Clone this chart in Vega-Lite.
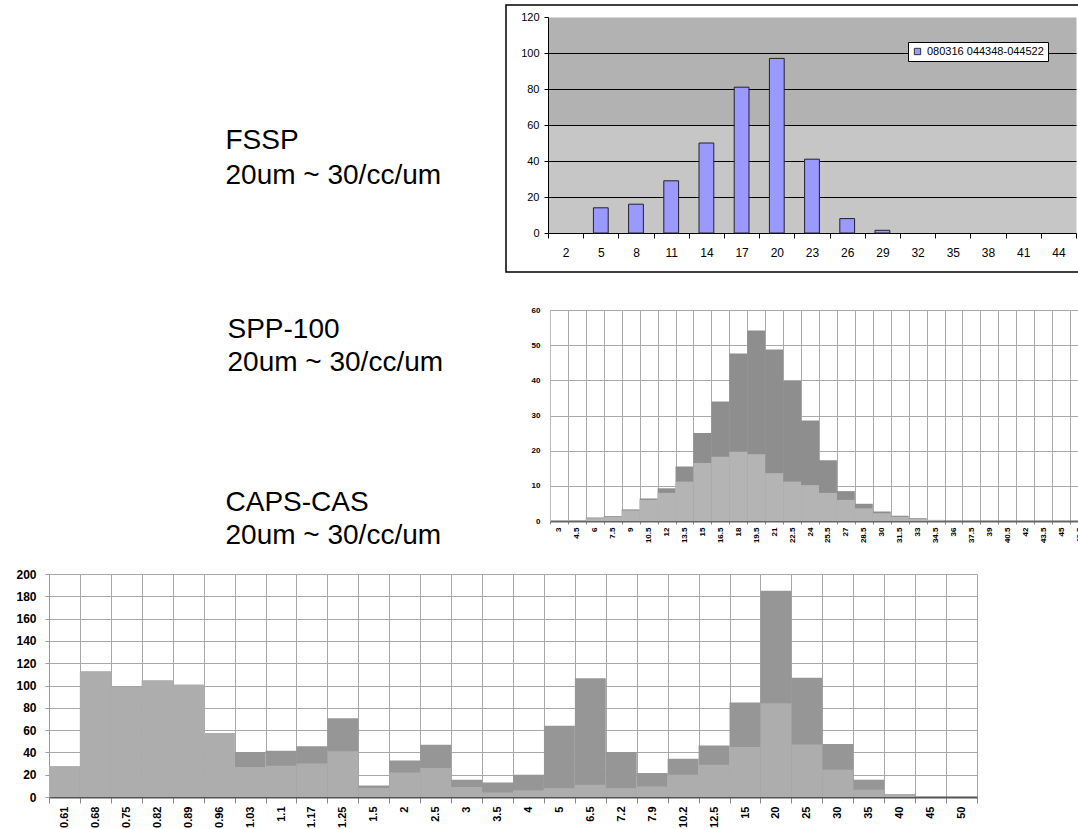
{
  "$schema": "https://vega.github.io/schema/vega-lite/v6.json",
  "width": 1078,
  "height": 829,
  "autosize": "none",
  "padding": 0,
  "background": "white",
  "config": {"view": {"stroke": null}, "font": "Liberation Sans"},
  "datasets": {
    "fssp": [
      {"size": "2", "count": 0}, {"size": "5", "count": 14}, {"size": "8", "count": 16},
      {"size": "11", "count": 29}, {"size": "14", "count": 50}, {"size": "17", "count": 81},
      {"size": "20", "count": 97}, {"size": "23", "count": 41}, {"size": "26", "count": 8},
      {"size": "29", "count": 1.5}, {"size": "32", "count": 0}, {"size": "35", "count": 0},
      {"size": "38", "count": 0}, {"size": "41", "count": 0}, {"size": "44", "count": 0}
    ],
    "spp": [
      {"size": "3", "total": 0, "part": 0}, {"size": "4.5", "total": 0.2, "part": 0.2},
      {"size": "6", "total": 1.0, "part": 0.8}, {"size": "7.5", "total": 1.4, "part": 1.2},
      {"size": "9", "total": 3.3, "part": 3.0}, {"size": "10.5", "total": 6.4, "part": 6.0},
      {"size": "12", "total": 9.3, "part": 8.0}, {"size": "13.5", "total": 15.5, "part": 11.2},
      {"size": "15", "total": 25.0, "part": 16.5}, {"size": "16.5", "total": 34.0, "part": 18.3},
      {"size": "18", "total": 47.6, "part": 19.7}, {"size": "19.5", "total": 54.2, "part": 19.0},
      {"size": "21", "total": 48.8, "part": 13.6}, {"size": "22.5", "total": 39.8, "part": 11.2},
      {"size": "24", "total": 28.6, "part": 10.2}, {"size": "25.5", "total": 17.3, "part": 8.0},
      {"size": "27", "total": 8.5, "part": 6.0}, {"size": "28.5", "total": 4.9, "part": 3.6},
      {"size": "30", "total": 2.7, "part": 2.2}, {"size": "31.5", "total": 1.5, "part": 1.2},
      {"size": "33", "total": 0.8, "part": 0.6}, {"size": "34.5", "total": 0.3, "part": 0.3},
      {"size": "36", "total": 0, "part": 0}, {"size": "37.5", "total": 0, "part": 0},
      {"size": "39", "total": 0, "part": 0}, {"size": "40.5", "total": 0, "part": 0},
      {"size": "42", "total": 0, "part": 0}, {"size": "43.5", "total": 0, "part": 0},
      {"size": "45", "total": 0, "part": 0}, {"size": "46.5", "total": 0, "part": 0}
    ],
    "caps": [
      {"size": "0.61", "total": 27.5, "part": 27.5}, {"size": "0.68", "total": 112.5, "part": 112.5},
      {"size": "0.75", "total": 99, "part": 99}, {"size": "0.82", "total": 104.5, "part": 104.5},
      {"size": "0.89", "total": 100.6, "part": 100.6}, {"size": "0.96", "total": 57.3, "part": 57.3},
      {"size": "1.03", "total": 40.3, "part": 27}, {"size": "1.1", "total": 41.5, "part": 28},
      {"size": "1.17", "total": 45.5, "part": 30}, {"size": "1.25", "total": 70.7, "part": 41},
      {"size": "1.5", "total": 10.4, "part": 8}, {"size": "2", "total": 32.8, "part": 22},
      {"size": "2.5", "total": 46.9, "part": 26}, {"size": "3", "total": 15.5, "part": 9},
      {"size": "3.5", "total": 13.1, "part": 4}, {"size": "4", "total": 20, "part": 6},
      {"size": "5", "total": 63.9, "part": 8}, {"size": "6.5", "total": 106.6, "part": 11},
      {"size": "7.2", "total": 40.3, "part": 8}, {"size": "7.9", "total": 21.5, "part": 9.5},
      {"size": "10.2", "total": 34.3, "part": 20}, {"size": "12.5", "total": 46.3, "part": 29},
      {"size": "15", "total": 84.8, "part": 44.8}, {"size": "20", "total": 185, "part": 84},
      {"size": "25", "total": 107, "part": 47}, {"size": "30", "total": 47.5, "part": 24.5},
      {"size": "35", "total": 15.5, "part": 6.6}, {"size": "40", "total": 2.7, "part": 2.7},
      {"size": "45", "total": 0, "part": 0}, {"size": "50", "total": 0, "part": 0}
    ]
  },
  "layer": [
    {
      "data": {"values": [{"panel": "FSSP"}]},
      "mark": {"type": "rect", "fill": null, "fillOpacity": 0, "stroke": "black", "strokeWidth": 1.5},
      "encoding": {
        "x": {"datum": 0, "type": "quantitative", "scale": {"domain": [0, 1], "range": [506, 1092]}, "axis": null},
        "x2": {"datum": 1},
        "y": {"datum": 0, "type": "quantitative", "scale": {"domain": [0, 1], "range": [272, 5]}, "axis": null},
        "y2": {"datum": 1}
      }
    },
    {
      "data": {"values": [{"panel": "FSSP"}]},
      "mark": {"type": "rect", "opacity": 0},
      "encoding": {
        "x": {"datum": 0, "type": "quantitative", "scale": {"domain": [0, 1], "range": [548, 1076]}, "axis": null},
        "x2": {"datum": 1},
        "y": {"datum": 0, "type": "quantitative", "scale": {"domain": [0, 120], "range": [233, 17]},
          "axis": {"orient": "left", "offset": 0, "values": [30, 90], "grid": true, "gridWidth": 108,
            "gridColor": {"condition": {"test": "datum.value == 30", "value": "#c6c6c6"}, "value": "#b2b2b2"},
            "domain": false, "ticks": false, "labels": false, "title": null}},
        "y2": {"datum": 120}
      }
    },
    {
      "data": {"name": "fssp"},
      "transform": [{"filter": "datum.count > 0"}],
      "mark": {"type": "bar", "stroke": "#222222", "strokeWidth": 1, "width": {"band": 0.42}},
      "encoding": {
        "x": {"field": "size", "type": "ordinal", "sort": null,
          "scale": {"type": "band", "domain": ["2","5","8","11","14","17","20","23","26","29","32","35","38","41","44"], "range": [548, 1076], "paddingInner": 0, "paddingOuter": 0},
          "axis": {"orient": "bottom", "offset": -596, "tickBand": "extent", "grid": false, "labelAngle": 0,
            "labelFontSize": 12, "labelColor": "black", "tickColor": "black", "tickSize": 5, "labelPadding": 9,
            "domainColor": "black", "labelOverlap": false, "title": null}},
        "y": {"field": "count", "type": "quantitative", "scale": {"domain": [0, 120], "range": [233, 17]},
          "axis": {"orient": "left", "offset": -548, "values": [0, 20, 40, 60, 80, 100, 120], "grid": true, "gridWidth": 1,
            "gridColor": {"condition": {"test": "datum.value == 0 || datum.value == 120", "value": "transparent"}, "value": "black"},
            "labelFontSize": 11, "labelColor": "black", "tickColor": "black", "tickSize": 4, "labelPadding": 5, "domainColor": "black",
            "title": ["FSSP", "20um ~ 30/cc/um"], "titleAngle": 0, "titleAlign": "left", "titleBaseline": "alphabetic",
            "titleX": -323, "titleY": 148, "titleFontSize": 28, "titleFontWeight": "normal", "titleColor": "black", "titleLineHeight": 35}},
        "color": {"datum": "080316 044348-044522", "type": "nominal", "scale": {"range": ["#9999ff"]},
          "legend": {"orient": "none", "legendX": 908, "legendY": 42, "title": null, "fillColor": "white", "strokeColor": "black",
            "padding": 4, "symbolType": "square", "symbolSize": 40, "symbolStrokeColor": "#333333", "symbolStrokeWidth": 1,
            "labelFontSize": 11, "labelColor": "black"}}
      }
    },
    {
      "data": {"name": "spp"},
      "mark": {"type": "bar", "color": "#8e8e8e"},
      "encoding": {
        "x": {"field": "size", "type": "ordinal", "sort": null,
          "scale": {"type": "band", "domain": ["3","4.5","6","7.5","9","10.5","12","13.5","15","16.5","18","19.5","21","22.5","24","25.5","27","28.5","30","31.5","33","34.5","36","37.5","39","40.5","42","43.5","45","46.5"], "range": [550, 1088], "paddingInner": 0, "paddingOuter": 0},
          "axis": {"orient": "bottom", "offset": -308, "tickBand": "extent", "grid": false, "labelAngle": -90,
            "labelFontSize": 8, "labelFontWeight": "bold", "labelColor": "black", "tickColor": "#888888", "tickSize": 3,
            "labelPadding": 3, "domainColor": "#666666", "domainWidth": 2, "labelOverlap": false, "title": null}},
        "y": {"field": "total", "type": "quantitative", "scale": {"domain": [0, 60], "range": [521, 310]},
          "axis": {"orient": "left", "offset": -550, "values": [0, 10, 20, 30, 40, 50, 60], "grid": true, "gridColor": "#aaaaaa",
            "ticks": false, "labelPadding": 10, "labelFontSize": 8, "labelFontWeight": "bold", "labelColor": "black", "domainColor": "#bbbbbb",
            "title": ["SPP-100", "20um ~ 30/cc/um"], "titleAngle": 0, "titleAlign": "left", "titleBaseline": "alphabetic",
            "titleX": -323, "titleY": 337, "titleFontSize": 28, "titleFontWeight": "normal", "titleColor": "black", "titleLineHeight": 33}}
      }
    },
    {
      "data": {"name": "spp"},
      "mark": {"type": "bar", "color": "#b4b4b4"},
      "encoding": {
        "x": {"field": "size", "type": "ordinal", "sort": null,
          "scale": {"type": "band", "domain": ["3","4.5","6","7.5","9","10.5","12","13.5","15","16.5","18","19.5","21","22.5","24","25.5","27","28.5","30","31.5","33","34.5","36","37.5","39","40.5","42","43.5","45","46.5"], "range": [550, 1088], "paddingInner": 0, "paddingOuter": 0},
          "axis": {"orient": "top", "offset": 0, "tickBand": "extent", "grid": true, "gridColor": "#aaaaaa",
            "domain": false, "ticks": false, "labels": false, "title": null}},
        "y": {"field": "part", "type": "quantitative", "scale": {"domain": [0, 60], "range": [521, 310]}, "axis": null}
      }
    },
    {
      "data": {"name": "caps"},
      "mark": {"type": "bar", "color": "#969696"},
      "encoding": {
        "x": {"field": "size", "type": "ordinal", "sort": null,
          "scale": {"type": "band", "domain": ["0.61","0.68","0.75","0.82","0.89","0.96","1.03","1.1","1.17","1.25","1.5","2","2.5","3","3.5","4","5","6.5","7.2","7.9","10.2","12.5","15","20","25","30","35","40","45","50"], "range": [49, 977], "paddingInner": 0, "paddingOuter": 0},
          "axis": {"orient": "bottom", "offset": -32, "tickBand": "extent", "grid": false, "labelAngle": -90,
            "labelFontSize": 11, "labelFontWeight": "bold", "labelColor": "black", "tickColor": "#888888", "tickSize": 6,
            "labelPadding": 3, "domainColor": "#555555", "domainWidth": 2, "labelOverlap": false, "title": null}},
        "y": {"field": "total", "type": "quantitative", "scale": {"domain": [0, 200], "range": [797, 574]},
          "axis": {"orient": "left", "offset": -49, "values": [0, 20, 40, 60, 80, 100, 120, 140, 160, 180, 200], "grid": true, "gridColor": "#a8a8a8",
            "tickSize": 4, "tickColor": "#999999", "labelPadding": 9, "labelFontSize": 12, "labelFontWeight": "bold", "labelColor": "black", "domainColor": "#999999",
            "title": ["CAPS-CAS", "20um ~ 30/cc/um"], "titleAngle": 0, "titleAlign": "left", "titleBaseline": "alphabetic",
            "titleX": 176, "titleY": 510, "titleFontSize": 28, "titleFontWeight": "normal", "titleColor": "black", "titleLineHeight": 33}}
      }
    },
    {
      "data": {"name": "caps"},
      "mark": {"type": "bar", "color": "#adadad"},
      "encoding": {
        "x": {"field": "size", "type": "ordinal", "sort": null,
          "scale": {"type": "band", "domain": ["0.61","0.68","0.75","0.82","0.89","0.96","1.03","1.1","1.17","1.25","1.5","2","2.5","3","3.5","4","5","6.5","7.2","7.9","10.2","12.5","15","20","25","30","35","40","45","50"], "range": [49, 977], "paddingInner": 0, "paddingOuter": 0},
          "axis": {"orient": "top", "offset": 0, "tickBand": "extent", "grid": true, "gridColor": "#a8a8a8",
            "domain": false, "ticks": false, "labels": false, "title": null}},
        "y": {"field": "part", "type": "quantitative", "scale": {"domain": [0, 200], "range": [797, 574]}, "axis": null}
      }
    }
  ],
  "resolve": {
    "scale": {"x": "independent", "y": "independent", "color": "independent"},
    "axis": {"x": "independent", "y": "independent"}
  }
}
